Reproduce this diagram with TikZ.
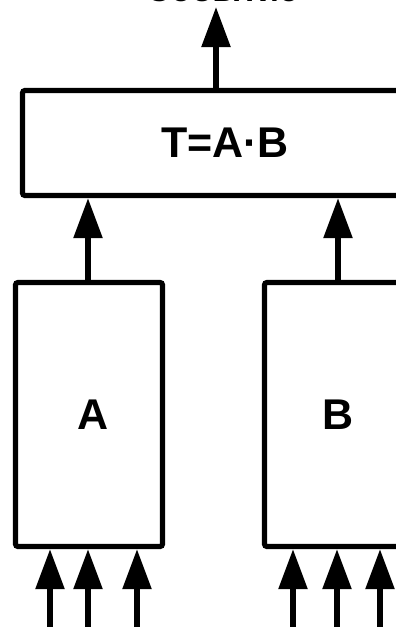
\documentclass[tikz,border=0pt]{standalone}
\usepackage{fontspec}
\setmainfont{Liberation Sans}
\usetikzlibrary{arrows.meta}
\begin{document}
\begin{tikzpicture}[x=1pt,y=-1pt,
  blk/.style={draw=black,line width=5.2pt,rounded corners=2.5pt,fill=white,inner sep=0pt},
  lbl/.style={font=\fontsize{43}{43}\selectfont\bfseries},
  arr/.style={line width=5.5pt,-{Triangle[width=28pt,length=40pt]}}]
\useasboundingbox (0,0) rectangle (396,627);
% top box
\node[blk,minimum width=405pt,minimum height=105pt,lbl] (top) at (225,143) {T=A·B};
\node[blk,minimum width=147pt,minimum height=264pt] (A) at (89,414.5) {};
\node[lbl,inner sep=0pt] (Alab) at (93,414.5) {A};
\node[blk,minimum width=147pt,minimum height=264pt,lbl] (B) at (338,414.5) {B};
% output text (cut off at top)
\node[anchor=base,inner sep=0pt,font=\fontsize{34}{34}\selectfont\bfseries] (out) at (222,1.2) {Событие};
% output arrow
\coordinate (o) at (216,7);
\draw[arr] (top.north -| o) -- (o);
% A,B to top
\coordinate (ain) at (88,0);
\draw[arr] (A.north -| ain) -- (top.south -| ain);
\draw[arr] (B.north) -- (B.north |- top.south);
% inputs
\foreach \n/\x in {a1/50,a2/88,a3/137}{
  \coordinate (\n) at (\x,627);
  \draw[arr] (\n) -- (\n |- A.south);
}
\foreach \n/\x in {b1/293,b2/337,b3/380}{
  \coordinate (\n) at (\x,627);
  \draw[arr] (\n) -- (\n |- B.south);
}
\end{tikzpicture}
\end{document}
